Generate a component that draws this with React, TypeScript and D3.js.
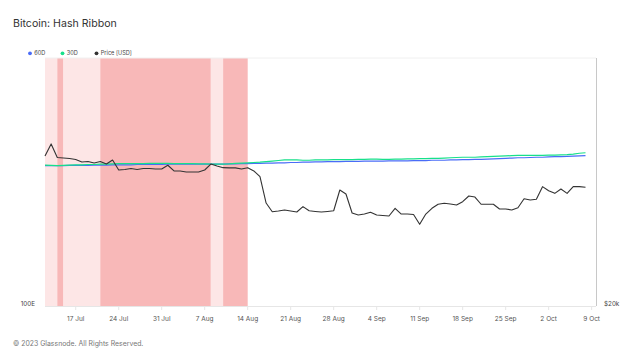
import React from "react";
import * as d3 from "d3";

const START = new Date(Date.UTC(2023, 6, 12));
const END = new Date(Date.UTC(2023, 9, 9));
const dates: Date[] = d3.utcDay.range(START, END);

const priceUSD = [
  30420, 31460, 30290, 30250, 30210, 30120, 29910, 29950, 29830, 29950,
  29740, 30080, 29250, 29290, 29370, 29290, 29370, 29370, 29330, 29330,
  29640, 29170, 29170, 29090, 29090, 29090, 29250, 29740, 29580, 29440,
  29420, 29420, 29330, 29440, 29170, 28710, 26670, 26030, 26080, 26160,
  26080, 26010, 26400, 26100, 26050, 26010, 26050, 26100, 27660, 27350,
  25940, 25790, 25860, 25990, 25790, 25760, 25720, 26280, 25860, 25860,
  25830, 25130, 25860, 26280, 26580, 26650, 26600, 26520, 26770, 27200,
  27120, 26580, 26580, 26580, 26230, 26230, 26160, 26320, 26990, 26900,
  26950, 27920, 27600, 27400, 27740, 27400, 27920, 27920, 27870,
];

const hash60D = [
  368, 368, 368, 368, 369, 369, 369, 369, 370, 370,
  370, 371, 371, 371, 371, 372, 372, 372, 372, 372,
  373, 373, 373, 373, 373, 373, 373, 373, 373, 373,
  374, 374, 375, 375, 376, 376, 377, 377, 378, 378,
  379, 379, 380, 380, 381, 381, 382, 382, 382, 383,
  383, 383, 384, 384, 384, 384, 385, 385, 385, 385,
  386, 386, 386, 387, 387, 387, 388, 388, 389, 389,
  390, 390, 391, 392, 393, 394, 395, 396, 396, 397,
  398, 398, 399, 400, 400, 401, 402, 403, 404,
];

const hash30D = [
  370, 369, 368, 369, 370, 371, 371, 372, 372, 373,
  373, 374, 375, 375, 375, 375, 375, 376, 376, 376,
  376, 375, 375, 375, 375, 374, 374, 373, 373, 373,
  374, 376, 377, 378, 379, 380, 382, 384, 386, 388,
  388, 388, 387, 387, 388, 388, 388, 389, 389, 389,
  389, 390, 390, 391, 391, 390, 390, 391, 391, 392,
  392, 393, 393, 394, 394, 395, 396, 397, 398, 398,
  398, 399, 400, 401, 402, 403, 404, 405, 405, 405,
  405, 405, 406, 406, 407, 408, 410, 413, 415,
];

const bandStarts = ["2023-07-12", "2023-07-14", "2023-07-15", "2023-07-21", "2023-08-08", "2023-08-10"];
const bandEnds = ["2023-07-14", "2023-07-15", "2023-07-21", "2023-08-08", "2023-08-10", "2023-08-14"];
const bandKinds = ["light", "dark", "light", "dark", "light", "dark"];

const legendLabels = ["60D", "30D", "Price [USD]"];
const legendColors = ["#4a6cf7", "#17e08a", "#333333"];

const W = 640;
const H = 360;
const M = { left: 45, right: 596, top: 58, bottom: 306 };

export default function App() {
  const x = d3
    .scaleUtc()
    .domain([START, new Date(Date.UTC(2023, 9, 9, 17))])
    .range([M.left, M.right]);
  const yHash = d3.scaleLog().domain([100, 1000]).range([M.bottom, M.top]);
  const yPrice = d3.scaleLog().domain([20000, 40000]).range([M.bottom, M.top]);

  const lineHash = d3
    .line<number>()
    .x((_, i) => x(dates[i]))
    .y((d) => yHash(d))
    .curve(d3.curveLinear);
  const linePrice = d3
    .line<number>()
    .x((_, i) => x(dates[i]))
    .y((d) => yPrice(d));

  const ticks = d3.utcMonday.every(1)!.range(new Date(Date.UTC(2023, 6, 13)), new Date(Date.UTC(2023, 9, 10)));
  const fmt = d3.utcFormat("%-d %b");
  const font = "Inter, 'Open Sans', 'DejaVu Sans', sans-serif";

  return (
    <svg
      width={W}
      height={H}
      style={{ position: "absolute", left: 0, top: 0, background: "#fff" }}
      fontFamily={font}
    >
      <rect x={0} y={0} width={W} height={H} fill="#fff" />
      <text x={13} y={27} fontSize={10.6} fill="#333">
        Bitcoin: Hash Ribbon
      </text>

      {legendLabels.map((l, i) => {
        const lx = [30, 62.5, 96.5][i];
        return (
          <g key={l}>
            <circle cx={lx} cy={53.3} r={1.9} fill={legendColors[i]} />
            <text x={lx + 4.3} y={55.3} fontSize={5.6} fill="#444">
              {l}
            </text>
          </g>
        );
      })}

      {bandStarts.map((s, i) => {
        const x0 = x(new Date(s + "T00:00:00Z"));
        const x1 = x(new Date(bandEnds[i] + "T00:00:00Z"));
        return (
          <rect
            key={s}
            x={x0}
            y={M.top}
            width={x1 - x0}
            height={M.bottom - M.top}
            fill={bandKinds[i] === "dark" ? "#f8b8b8" : "#fde6e6"}
          />
        );
      })}

      <line x1={M.left} x2={M.right} y1={M.top} y2={M.top} stroke="#f0f0f0" strokeWidth={1} />
      <line x1={M.left} x2={M.right} y1={M.bottom + 0.5} y2={M.bottom + 0.5} stroke="#e6e6e6" strokeWidth={1} />
      <line x1={M.right + 0.5} x2={M.right + 0.5} y1={M.top} y2={M.bottom} stroke="#c8c8c8" strokeWidth={1} />

      {ticks.map((t) => (
        <g key={t.toISOString()}>
          <line x1={x(t)} x2={x(t)} y1={M.bottom + 1} y2={M.bottom + 4} stroke="#e6e6e6" />
          <text x={x(t)} y={321} fontSize={6.5} fill="#555" textAnchor="middle">
            {fmt(t)}
          </text>
        </g>
      ))}

      <text x={35} y={305.5} fontSize={6.3} fill="#444" textAnchor="end">
        100E
      </text>
      <text x={604} y={305.5} fontSize={6.3} fill="#444">
        $20k
      </text>

      <path d={lineHash(hash60D) ?? ""} fill="none" stroke="#4a6cf7" strokeWidth={1.2} />
      <path d={lineHash(hash30D) ?? ""} fill="none" stroke="#17e08a" strokeWidth={1.2} />
      <path d={linePrice(priceUSD) ?? ""} fill="none" stroke="#333" strokeWidth={1.1} strokeLinejoin="round" />

      <text x={13} y={345.5} fontSize={6.9} fill="#777">
        © 2023 Glassnode. All Rights Reserved.
      </text>
    </svg>
  );
}
